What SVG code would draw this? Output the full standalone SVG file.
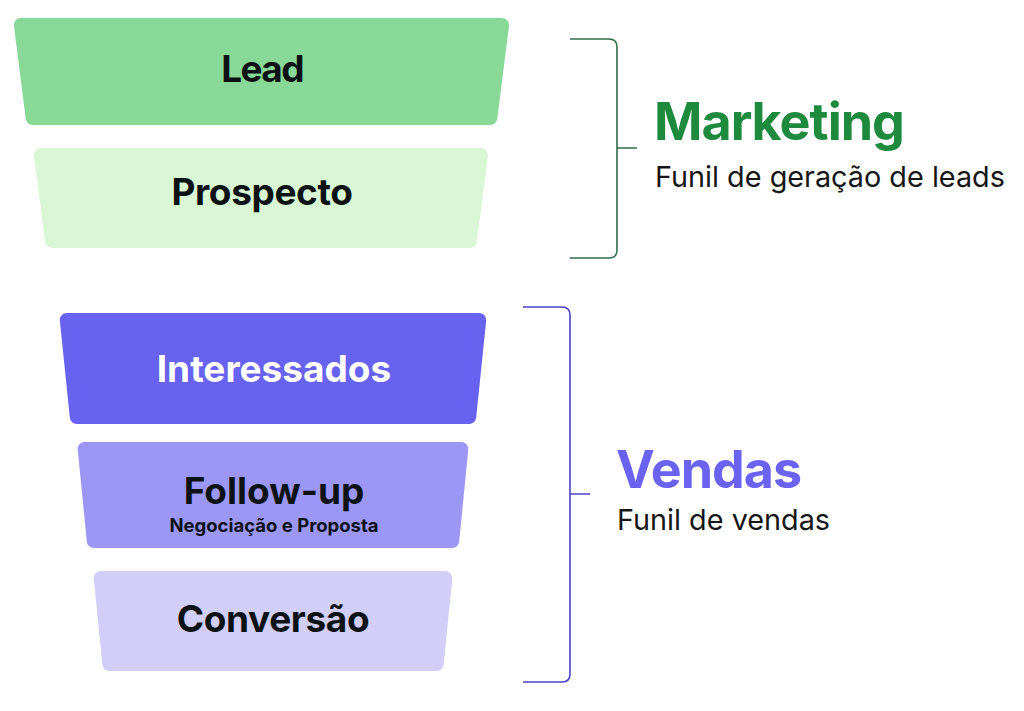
<svg xmlns="http://www.w3.org/2000/svg" width="1024" height="711" viewBox="0 0 1024 711">
<style>
.stage{stroke-width:14;stroke-linejoin:round}
.lbl{font-family:Inter,"Liberation Sans",sans-serif;font-weight:700;text-anchor:middle;fill:#0c1214;letter-spacing:-0.4px}
.big{font-size:37px}
.sub{font-size:18.5px;letter-spacing:0}
.title{font-family:Inter,"Liberation Sans",sans-serif;font-weight:700;font-size:52px;letter-spacing:-1px}
.desc{font-family:Inter,"Liberation Sans",sans-serif;font-weight:400;font-size:28.8px;fill:#161616}
.br{fill:none;stroke-width:1.6}
</style>
<rect width="1024" height="711" fill="#ffffff"/>
<g id="lead">
<polygon class="stage" fill="#88d998" stroke="#88d998" points="20.9,25 502.1,25 490.3,118 32.7,118"/>
<text class="lbl big" x="262" y="82" style="letter-spacing:-1.6px">Lead</text>
</g>
<g id="prospecto">
<polygon class="stage" fill="#d9f7d4" stroke="#d9f7d4" points="41,155 481,155 469.9,241 52.1,241"/>
<text class="lbl big" x="262" y="205">Prospecto</text>
</g>
<g id="interessados">
<polygon class="stage" fill="#6862f1" stroke="#6862f1" points="66.8,320 479.2,320 469.2,417 76.8,417"/>
<text class="lbl big" x="274" y="382" style="fill:#ffffff;letter-spacing:0">Interessados</text>
</g>
<g id="followup">
<polygon class="stage" fill="#9c97f4" stroke="#9c97f4" points="84.7,449 461.3,449 452.2,541 93.8,541"/>
<text class="lbl big" x="274" y="504" style="letter-spacing:0">Follow-up</text>
<text class="lbl sub" x="274" y="532">Negociação e Proposta</text>
</g>
<g id="conversao">
<polygon class="stage" fill="#d1cff8" stroke="#d1cff8" points="100.7,578 445.3,578 436.7,664 109.3,664"/>
<text class="lbl big" x="273" y="632">Conversão</text>
</g>
<g id="connectors">
<path class="br" stroke="#2f6e4c" d="M570,39 H609 Q617,39 617,47 V250 Q617,258 609,258 H570 M617,148 H637"/>
<path class="br" stroke="#4a43c4" d="M523,307 H562 Q570,307 570,315 V674 Q570,682 562,682 H523 M570,494 H590"/>
</g>
<g id="marketing">
<text class="title" x="654" y="140" fill="#1d8a3e">Marketing</text>
<text class="desc" x="655" y="187">Funil de geração de leads</text>
</g>
<g id="vendas">
<text class="title" x="616" y="488" fill="#6b63f0">Vendas</text>
<text class="desc" x="617" y="530">Funil de vendas</text>
</g>
</svg>
